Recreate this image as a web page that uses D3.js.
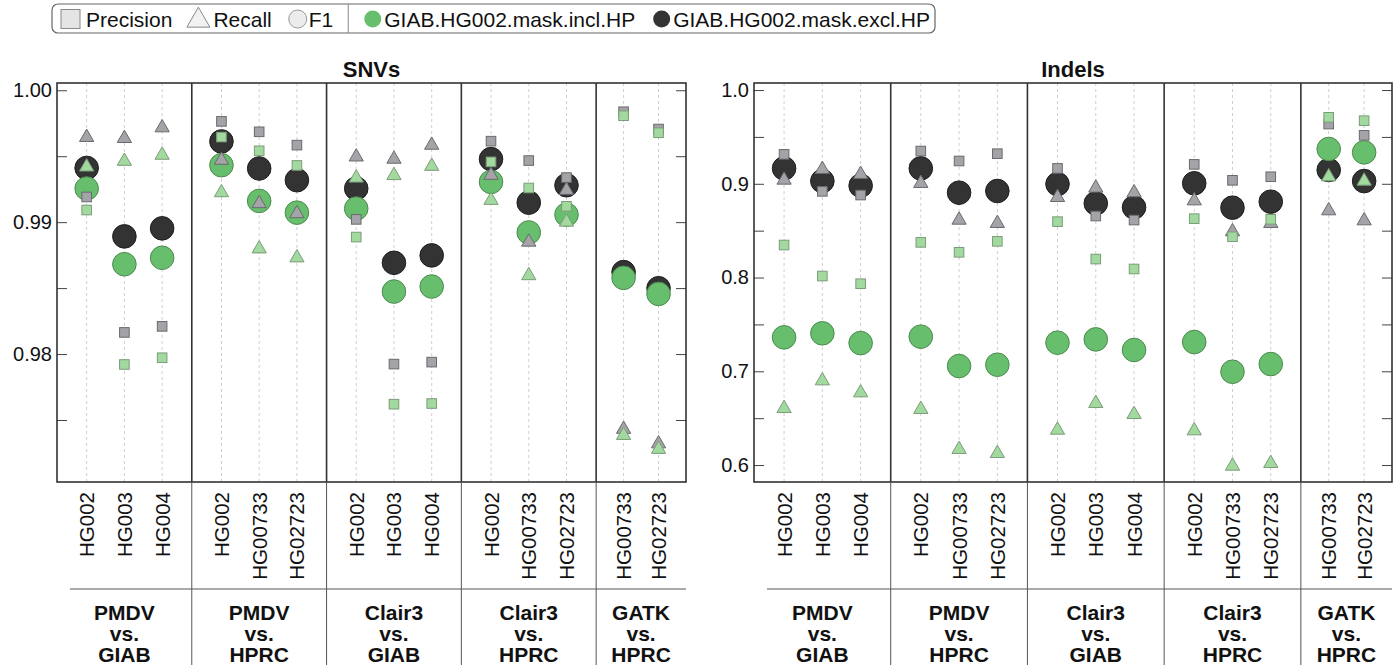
<!DOCTYPE html>
<html>
<head>
<meta charset="utf-8">
<script src="https://cdn.jsdelivr.net/npm/d3@7"></script>
<style>
  html, body { margin: 0; padding: 0; background: #fff; }
  svg { display: block; font-family: "Liberation Sans", Arial, Helvetica, sans-serif; }
</style>
</head>
<body>
<svg id="chart" width="1398" height="665"></svg>
<script>
// ---- Data -------------------------------------------------------------
const groupNames = [["PMDV", "vs.", "GIAB"], ["PMDV", "vs.", "HPRC"], ["Clair3", "vs.", "GIAB"], ["Clair3", "vs.", "HPRC"], ["GATK", "vs.", "HPRC"]];
const groupSamples = [
  ["HG002", "HG003", "HG004"],
  ["HG002", "HG00733", "HG02723"],
  ["HG002", "HG003", "HG004"],
  ["HG002", "HG00733", "HG02723"],
  ["HG00733", "HG02723"]
];

// SNVs, one value per column (groups in order, samples in order)
const snvPrecisionExcl = [0.99191, 0.98164, 0.98210, 0.99764, 0.99685, 0.99584, 0.99021, 0.97924, 0.97939, 0.99614, 0.99467, 0.99338, 0.99837, 0.99706];
const snvPrecisionIncl = [0.99092, 0.97921, 0.97972, 0.99645, 0.99541, 0.99430, 0.98887, 0.97620, 0.97625, 0.99457, 0.99259, 0.99120, 0.99807, 0.99678];
const snvRecallExcl    = [0.99643, 0.99635, 0.99716, 0.99470, 0.99141, 0.99065, 0.99495, 0.99478, 0.99584, 0.99356, 0.98849, 0.99242, 0.97430, 0.97320];
const snvRecallIncl    = [0.99419, 0.99462, 0.99508, 0.99224, 0.98798, 0.98730, 0.99335, 0.99354, 0.99424, 0.99166, 0.98595, 0.99001, 0.97384, 0.97278];
const snvF1Excl        = [0.99411, 0.98892, 0.98953, 0.99612, 0.99407, 0.99318, 0.99255, 0.98692, 0.98748, 0.99478, 0.99148, 0.99280, 0.98621, 0.98499];
const snvF1Incl        = [0.99255, 0.98681, 0.98730, 0.99432, 0.99161, 0.99072, 0.99103, 0.98474, 0.98512, 0.99305, 0.98922, 0.99057, 0.98578, 0.98456];

// Indels
const indelPrecisionExcl = [0.9314, 0.8919, 0.8880, 0.9349, 0.9243, 0.9321, 0.9164, 0.8656, 0.8613, 0.9207, 0.9037, 0.9075, 0.9637, 0.9517];
const indelPrecisionIncl = [0.8347, 0.8016, 0.7934, 0.8375, 0.8269, 0.8386, 0.8596, 0.8197, 0.8091, 0.8628, 0.8435, 0.8621, 0.9709, 0.9673];
const indelRecallExcl    = [0.9040, 0.9154, 0.9101, 0.9005, 0.8613, 0.8578, 0.8855, 0.8955, 0.8905, 0.8819, 0.8489, 0.8578, 0.8713, 0.8606];
const indelRecallIncl    = [0.6604, 0.6899, 0.6771, 0.6594, 0.6167, 0.6124, 0.6373, 0.6658, 0.6540, 0.6366, 0.5989, 0.6018, 0.9075, 0.9029];
const indelF1Excl        = [0.9164, 0.9029, 0.8980, 0.9164, 0.8905, 0.8923, 0.8997, 0.8791, 0.8749, 0.9005, 0.8745, 0.8809, 0.9147, 0.9029];
const indelF1Incl        = [0.7362, 0.7405, 0.7301, 0.7369, 0.7056, 0.7070, 0.7305, 0.7340, 0.7227, 0.7312, 0.6995, 0.7077, 0.9371, 0.9335];

const snvTicks = [0.975, 0.98, 0.985, 0.99, 0.995, 1.00];
const snvTickLabels = ["", "0.98", "", "0.99", "", "1.00"];
const indelTicks = [0.6, 0.65, 0.7, 0.75, 0.8, 0.85, 0.9, 0.95, 1.0];
const indelTickLabels = ["0.6", "", "0.7", "", "0.8", "", "0.9", "", "1.0"];

const legendMetrics = ["Precision", "Recall", "F1"];
const legendMasks = ["GIAB.HG002.mask.incl.HP", "GIAB.HG002.mask.excl.HP"];

// ---- Styles ------------------------------------------------------------
const style = {
  F1Excl:   { fill: "#333333", stroke: "#1e1e1e" },
  F1Incl:   { fill: "#67be6c", stroke: "#4c8a50" },
  greyMark: { fill: "#a3a3a8", stroke: "#6a6a6e" },
  greenMark:{ fill: "#a2d99e", stroke: "#7c9c7a" },
  frame: "#333333",
  grid: "#cfcfcf"
};

const svg = d3.select("#chart");

const panels = [
  { title: "SNVs", left: 57, right: 686, domain: [0.9703, 1.00055], ticks: snvTicks, labels: snvTickLabels,
    P: [snvPrecisionExcl, snvPrecisionIncl], R: [snvRecallExcl, snvRecallIncl], F: [snvF1Excl, snvF1Incl] },
  { title: "Indels", left: 754, right: 1392, domain: [0.5819, 1.0075], ticks: indelTicks, labels: indelTickLabels,
    P: [indelPrecisionExcl, indelPrecisionIncl], R: [indelRecallExcl, indelRecallIncl], F: [indelF1Excl, indelF1Incl] }
];

const plotTop = 83, plotBottom = 482;
const nTotal = d3.sum(groupSamples, s => s.length);

panels.forEach(p => {
  const g = svg.append("g");
  const y = d3.scaleLinear().domain(p.domain).range([plotBottom, plotTop]);
  const gx = d3.scaleLinear().domain([0, nTotal]).range([p.left, p.right]);

  // column positions
  const cols = [];
  const bounds = [];
  let cum = 0;
  groupSamples.forEach((samples, gi) => {
    const x0 = gx(cum), x1 = gx(cum + samples.length);
    bounds.push([x0, x1]);
    const sp = d3.scalePoint().domain(samples).range([x0, x1]).padding(0.786);
    samples.forEach(s => cols.push({ x: sp(s), sample: s, group: gi }));
    cum += samples.length;
  });

  // dashed guide per column
  g.selectAll("line.guide").data(cols).join("line")
    .attr("x1", d => d.x).attr("x2", d => d.x)
    .attr("y1", plotTop).attr("y2", plotBottom)
    .attr("stroke", style.grid).attr("stroke-width", 1).attr("stroke-dasharray", "3,3");

  // axes: ticks inside on both sides
  const leftAxis = d3.axisLeft(y).tickValues(p.ticks).tickSize(-10).tickPadding(15)
    .tickFormat((d, i) => p.labels[i]);
  const ga = g.append("g").attr("transform", `translate(${p.left},0)`).call(leftAxis);
  ga.select(".domain").remove();
  ga.selectAll("line").attr("stroke", "#444");
  ga.selectAll("text").attr("font-size", 20).attr("fill", "#111").attr("x", -5);

  const rightAxis = d3.axisRight(y).tickValues(p.ticks).tickSize(-10).tickFormat("");
  const gr = g.append("g").attr("transform", `translate(${p.right},0)`).call(rightAxis);
  gr.select(".domain").remove();
  gr.selectAll("line").attr("stroke", "#444");

  // frame and group separators
  g.append("rect").attr("x", p.left).attr("y", plotTop).attr("width", p.right - p.left).attr("height", plotBottom - plotTop)
    .attr("fill", "none").attr("stroke", style.frame).attr("stroke-width", 1.6);
  bounds.slice(1).forEach(b => {
    g.append("line").attr("x1", b[0]).attr("x2", b[0]).attr("y1", plotTop).attr("y2", plotBottom)
      .attr("stroke", style.frame).attr("stroke-width", 1.6);
    g.append("line").attr("x1", b[0]).attr("x2", b[0]).attr("y1", plotBottom).attr("y2", 665)
      .attr("stroke", "#555").attr("stroke-width", 1);
  });

  // title
  g.append("text").attr("x", (p.left + p.right) / 2).attr("y", 77).attr("text-anchor", "middle")
    .attr("font-size", 22).attr("font-weight", "bold").attr("fill", "#111").text(p.title);

  // markers: F1 circles first, then precision/recall
  const mk = g.append("g");
  [0, 1].forEach(k => {
    const st = k === 0 ? style.F1Excl : style.F1Incl;
    mk.selectAll(null).data(cols).join("circle")
      .attr("cx", d => d.x).attr("cy", (d, i) => y(p.F[k][i])).attr("r", 11.8)
      .attr("fill", st.fill).attr("stroke", st.stroke).attr("stroke-width", 1);
  });
  const sq = 9.6;
  const tri = d3.symbol().type(d3.symbolTriangle).size(88);
  [0, 1].forEach(k => {
    const st = k === 0 ? style.greyMark : style.greenMark;
    mk.selectAll(null).data(cols).join("rect")
      .attr("x", d => d.x - sq / 2).attr("y", (d, i) => y(p.P[k][i]) - sq / 2)
      .attr("width", sq).attr("height", sq)
      .attr("fill", st.fill).attr("stroke", st.stroke).attr("stroke-width", 1);
    mk.selectAll(null).data(cols).join("path")
      .attr("d", tri)
      .attr("transform", (d, i) => `translate(${d.x},${y(p.R[k][i])})`)
      .attr("fill", st.fill).attr("stroke", st.stroke).attr("stroke-width", 1);
  });

  // sample labels
  g.selectAll("text.sample").data(cols).join("text")
    .attr("transform", d => `translate(${d.x + 7.5},492) rotate(-90)`)
    .attr("text-anchor", "end").attr("font-size", 20.5).attr("fill", "#111")
    .text(d => d.sample);

  // separator between sample and group labels
  g.append("line").attr("x1", p.left + 13).attr("x2", p.right).attr("y1", 589).attr("y2", 589)
    .attr("stroke", "#555").attr("stroke-width", 1);

  // group labels
  bounds.forEach((b, gi) => {
    const t = g.append("text").attr("text-anchor", "middle").attr("font-size", 21)
      .attr("font-weight", "bold").attr("fill", "#111");
    groupNames[gi].forEach((line, li) => {
      t.append("tspan").attr("x", (b[0] + b[1]) / 2).attr("y", 620 + li * 21).text(line);
    });
  });
});

// ---- Legend -------------------------------------------------------------
const lg = svg.append("g");
lg.append("rect").attr("x", 52).attr("y", 4).attr("width", 883).attr("height", 29).attr("rx", 6)
  .attr("fill", "#fff").attr("stroke", "#666").attr("stroke-width", 1.2);
const ly = 19;
const legendText = (x, s) => lg.append("text").attr("x", x).attr("y", ly + 7.5).attr("font-size", 21).attr("fill", "#111").text(s);
const textEnd = sel => +sel.attr("x") + sel.node().getComputedTextLength();

// metric shapes
let lx = 61;
lg.append("rect").attr("x", lx).attr("y", ly - 9.5).attr("width", 19).attr("height", 19)
  .attr("fill", "#e4e4e4").attr("stroke", "#888");
let t = legendText(lx + 25, legendMetrics[0]);
lx = textEnd(t) + 14;
lg.append("path").attr("d", d3.symbol().type(d3.symbolTriangle).size(230))
  .attr("transform", `translate(${lx + 12},${ly + 1.5})`).attr("fill", "#f2f2f2").attr("stroke", "#888");
t = legendText(lx + 27, legendMetrics[1]);
lx = textEnd(t) + 17;
lg.append("circle").attr("cx", lx + 9).attr("cy", ly).attr("r", 9).attr("fill", "#ececec").attr("stroke", "#999");
t = legendText(lx + 20, legendMetrics[2]);
lx = textEnd(t) + 15;
lg.append("line").attr("x1", lx).attr("x2", lx).attr("y1", 4).attr("y2", 33).attr("stroke", "#888");
lx += 16;
[style.F1Incl.fill, style.F1Excl.fill].forEach((c, i) => {
  lg.append("circle").attr("cx", lx + 8.5).attr("cy", ly).attr("r", 8.5).attr("fill", c);
  const tt = legendText(lx + 20, legendMasks[i]);
  lx = textEnd(tt) + 18;
});
</script>
</body>
</html>
